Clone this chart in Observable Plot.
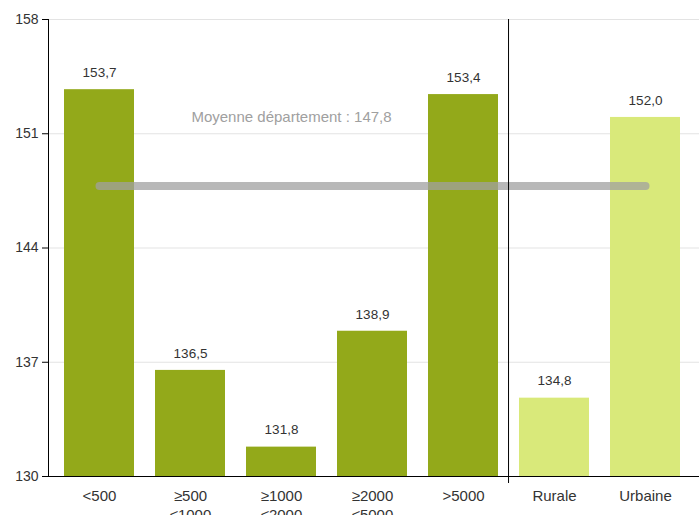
<!DOCTYPE html>
<html>
<head>
<meta charset="utf-8">
<script src="https://cdn.jsdelivr.net/npm/d3@7"></script>
<script src="https://cdn.jsdelivr.net/npm/@observablehq/plot@0.6"></script>
<style>
  html, body { margin: 0; padding: 0; background: #fff; }
  #chart svg { display: block; }
</style>
</head>
<body>
<div id="chart"></div>
<script>
const categories = ["<500", "≥500\n≤1000", "≥1000\n≤2000", "≥2000\n≤5000", ">5000", "Rurale", "Urbaine"];
const values = [153.7, 136.5, 131.8, 138.9, 153.4, 134.8, 152.0];
const groups = ["taille", "taille", "taille", "taille", "taille", "zone", "zone"];
const yTicks = [130, 137, 144, 151, 158];
const meanValue = 147.8;
const meanLabel = "Moyenne département : 147,8";
const yMin = 130, yMax = 158;

const data = categories.map((c, i) => ({cat: c, value: values[i], group: groups[i]}));
const fmt = v => v.toFixed(1).replace(".", ",");

const W = 699, H = 515, ML = 48, MR = 3, MT = 19, MB = 39;
const padInner = 0.23, padOuter = 0.14;
const step = (W - ML - MR) / (categories.length - padInner + 2 * padOuter);

const chart = Plot.plot({
  width: W,
  height: H,
  marginLeft: ML,
  marginRight: MR,
  marginTop: MT,
  marginBottom: MB,
  style: {fontFamily: "'Liberation Sans', Arial, sans-serif", fontSize: "14px", color: "#333", background: "#fff"},
  x: {domain: categories, paddingInner: padInner, paddingOuter: padOuter, label: null},
  y: {domain: [yMin, yMax], label: null},
  color: {domain: ["taille", "zone"], range: ["#93a91a", "#d9e97a"]},
  marks: [
    Plot.gridY(yTicks, {stroke: "#e3e3e3", strokeOpacity: 1, insetRight: -3}),
    Plot.barY(data, {x: "cat", y1: yMin, y2: "value", fill: "group"}),
    Plot.lineY([{cat: categories[0], y: meanValue}, {cat: categories[categories.length - 1], y: meanValue}],
      {x: "cat", y: "y", stroke: "#a0a0a0", strokeOpacity: 0.75, strokeWidth: 8, strokeLinecap: "round"}),
    Plot.text([{cat: categories[2], y: meanValue}], {x: "cat", y: "y", text: () => meanLabel, dx: 10, dy: -69, fill: "#a0a0a0", fontSize: 15, style: {letterSpacing: "0.5px"}}),
    Plot.text(data, {x: "cat", y: "value", text: d => fmt(d.value), dy: -17, fill: "#333", fontSize: 13.5}),
    Plot.ruleX([categories[5]], {x: d => d, dx: -step / 2, stroke: "#000", strokeWidth: 1, insetBottom: -7}),
    Plot.ruleY([yMin], {stroke: "#000", insetRight: -3}),
    Plot.axisY({ticks: yTicks, tickSize: 6, tickPadding: 4, fontSize: 14, tickFormat: d => String(d), stroke: "#000"}),
    Plot.frame({anchor: "left", stroke: "#000"}),
    Plot.axisX({tickSize: 0, tickPadding: 11, fontSize: 15, lineHeight: 1.27, style: {letterSpacing: "0.4px"}})
  ]
});
document.getElementById("chart").appendChild(chart);
</script>
</body>
</html>
